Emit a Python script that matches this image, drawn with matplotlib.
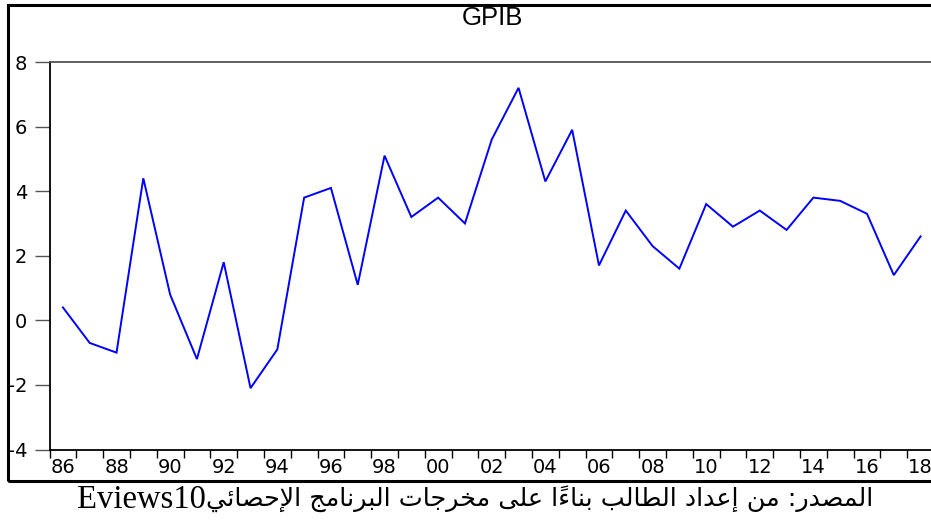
import matplotlib
matplotlib.use("Agg")
import matplotlib.pyplot as plt
from matplotlib.patches import Rectangle
from matplotlib.ticker import FixedLocator, NullFormatter

# ---------------- data ----------------
years = list(range(1986, 2019))
gpib = [0.4, -0.7, -1.0, 4.4, 0.8, -1.2, 1.8, -2.1, -0.9, 3.8,
        4.1, 1.1, 5.1, 3.2, 3.8, 3.0, 5.6, 7.2, 4.3, 5.9,
        1.7, 3.4, 2.3, 1.6, 3.6, 2.9, 3.4, 2.8, 3.8, 3.7,
        3.3, 1.4, 2.6]
x_label_years = list(range(1986, 2019, 2))
x_tick_labels = [f"{y % 100:02d}" for y in x_label_years]
y_ticks = [-4, -2, 0, 2, 4, 6, 8]
title = "GPIB"
source_ar = "المصدر: من إعداد الطالب بناءاً على مخرجات البرنامج الإحصائي"
source_lat = "Eviews10"

# ------------- minimal Arabic shaping (presentation forms) -------------
FORMS = {
    '\u0621': ('\uFE80', None, None, None),
    '\u0623': ('\uFE83', '\uFE84', None, None),
    '\u0625': ('\uFE87', '\uFE88', None, None),
    '\u0626': ('\uFE89', '\uFE8A', '\uFE8B', '\uFE8C'),
    '\u0627': ('\uFE8D', '\uFE8E', None, None),
    '\u0628': ('\uFE8F', '\uFE90', '\uFE91', '\uFE92'),
    '\u062A': ('\uFE95', '\uFE96', '\uFE97', '\uFE98'),
    '\u062C': ('\uFE9D', '\uFE9E', '\uFE9F', '\uFEA0'),
    '\u062D': ('\uFEA1', '\uFEA2', '\uFEA3', '\uFEA4'),
    '\u062E': ('\uFEA5', '\uFEA6', '\uFEA7', '\uFEA8'),
    '\u062F': ('\uFEA9', '\uFEAA', None, None),
    '\u0631': ('\uFEAD', '\uFEAE', None, None),
    '\u0635': ('\uFEB9', '\uFEBA', '\uFEBB', '\uFEBC'),
    '\u0637': ('\uFEC1', '\uFEC2', '\uFEC3', '\uFEC4'),
    '\u0639': ('\uFEC9', '\uFECA', '\uFECB', '\uFECC'),
    '\u0644': ('\uFEDD', '\uFEDE', '\uFEDF', '\uFEE0'),
    '\u0645': ('\uFEE1', '\uFEE2', '\uFEE3', '\uFEE4'),
    '\u0646': ('\uFEE5', '\uFEE6', '\uFEE7', '\uFEE8'),
    '\u0649': ('\uFEEF', '\uFEF0', '\uFBE8', '\uFBE9'),
    '\u064A': ('\uFEF1', '\uFEF2', '\uFEF3', '\uFEF4'),
}
LAM_ALEF = {'\u0627': ('\uFEFB', '\uFEFC'), '\u0625': ('\uFEF9', '\uFEFA'),
            '\u0623': ('\uFEF7', '\uFEF8'), '\u0622': ('\uFEF5', '\uFEF6')}
TRANSPARENT = set('\u064B\u064C\u064D\u064E\u064F\u0650\u0651\u0652')


def _dual(c):
    f = FORMS.get(c)
    return f is not None and f[2] is not None


def _joins(c):
    f = FORMS.get(c)
    return f is not None and f[1] is not None


def shape_rtl(text):
    chars = list(text)
    n = len(chars)
    clusters = []
    prev_dual = False
    i = 0
    while i < n:
        c = chars[i]
        if c in TRANSPARENT:
            if clusters:
                clusters[-1] += c
            i += 1
            continue
        if c not in FORMS:
            clusters.append(c)
            prev_dual = False
            i += 1
            continue
        j = i + 1
        while j < n and chars[j] in TRANSPARENT:
            j += 1
        nxt = chars[j] if j < n else None
        if c == '\u0644' and nxt in LAM_ALEF:
            clusters.append(LAM_ALEF[nxt][1 if prev_dual else 0])
            prev_dual = False
            i = j + 1
            continue
        f = FORMS[c]
        cp = prev_dual and f[1] is not None
        cn = _dual(c) and nxt is not None and _joins(nxt)
        if cp and cn:
            g = f[3]
        elif cp:
            g = f[1]
        elif cn:
            g = f[2]
        else:
            g = f[0]
        clusters.append(g)
        prev_dual = _dual(c)
        i += 1
    return ''.join(reversed(clusters))


# ---------------- figure ----------------
W, H = 931, 520
fig = plt.figure(figsize=(W / 100, H / 100), dpi=100)
fig.patch.set_facecolor("white")

def fx(px):
    return px / W

def fy(py):
    return 1 - py / H

ax_l, ax_r, ax_t, ax_b = 49.5, 934.0, 62.0, 449.5
ax = fig.add_axes([fx(ax_l), fy(ax_b), fx(ax_r - ax_l), (ax_b - ax_t) / H])
ax.plot(years, gpib, color="#0000ff", lw=1.4, solid_joinstyle="miter")
ax.set_xlim(1985.5, 2018.5)
ax.set_ylim(-4, 8)

# x: ticks at year boundaries, labels centered on even years
ax.xaxis.set_major_locator(FixedLocator([y - 0.5 for y in range(1986, 2020)]))
ax.xaxis.set_major_formatter(NullFormatter())
ax.xaxis.set_minor_locator(FixedLocator(x_label_years))
ax.set_xticklabels(x_tick_labels, minor=True)
ax.tick_params(axis="x", which="major", direction="out", length=6, width=1.0,
               color="black", bottom=True)
ax.tick_params(axis="x", which="minor", length=0, pad=6,
               labelsize=14, labelfontfamily="DejaVu Sans")
ax.set_yticks(y_ticks)
ax.set_yticklabels([str(v) for v in y_ticks])
ax.tick_params(axis="y", direction="out", length=11, width=1.0, color="#555555",
               pad=5, labelsize=14, labelfontfamily="DejaVu Sans")

for s in ["left", "bottom"]:
    ax.spines[s].set_color("black")
    ax.spines[s].set_linewidth(1.3)
ax.spines["top"].set_color("#555555")
ax.spines["top"].set_linewidth(1.3)
ax.spines["right"].set_visible(False)

# title
fig.text(fx(492), fy(18), title, ha="center", va="center", fontsize=18.5,
         family="Liberation Sans")

# outer frame
fig.add_artist(Rectangle((fx(8), fy(481)), fx(940 - 8), (481 - 5) / H,
                         transform=fig.transFigure, fill=False, lw=2.2,
                         edgecolor="black", clip_on=False))

# source line (Arabic right part + latin left part)
t_ar = fig.text(fx(873), fy(499), shape_rtl(source_ar), ha="right", va="center",
                fontsize=18.3, family="DejaVu Sans")
fig.canvas.draw()
bb = t_ar.get_window_extent()
fig.text(bb.x0 / W, fy(500), source_lat, ha="right", va="center",
         fontsize=23.5, family="Liberation Serif")

fig.savefig("out.png", dpi=100, facecolor="white")
